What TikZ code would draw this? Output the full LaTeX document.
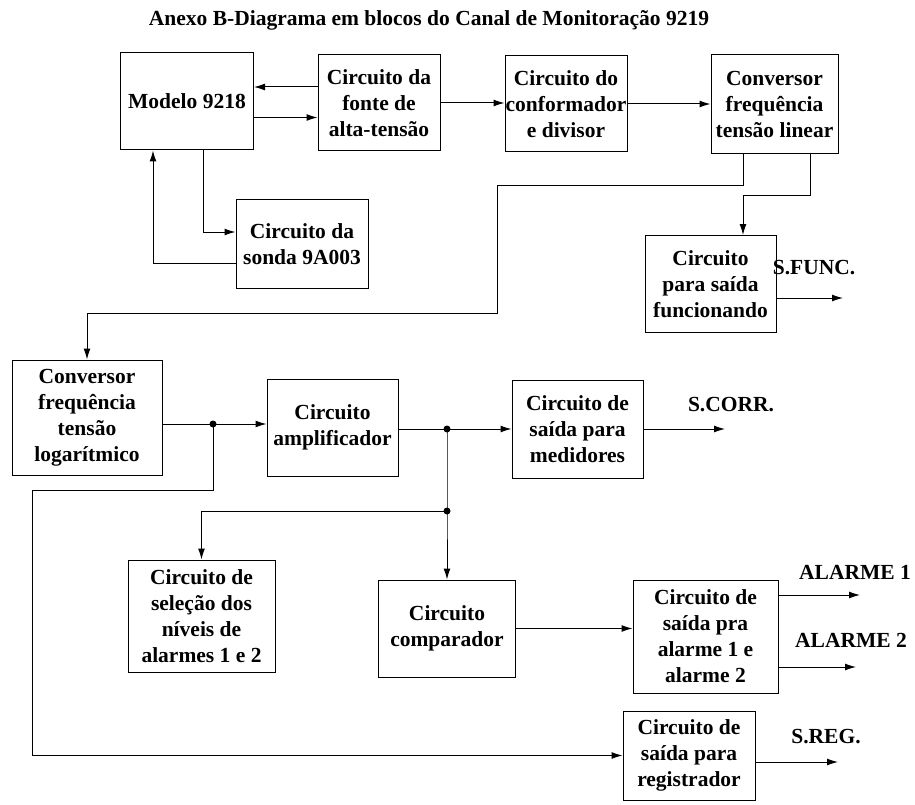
\documentclass[tikz,border=0pt]{standalone}
\usepackage{fontspec}
\setmainfont{Liberation Serif}
\usetikzlibrary{arrows.meta}
\begin{document}
\begin{tikzpicture}[x=1pt,y=-1pt,
  font=\fontsize{21.5}{26}\selectfont\bfseries,
  blk/.style={draw,line width=1pt,align=center,inner sep=0pt},
  a/.style={-{Latex[length=11pt,width=7pt]},line width=1pt},
  ln/.style={line width=1pt}]
  \useasboundingbox (0,0) rectangle (915,805);
  \node (tt) at (429,20) {Anexo B-Diagrama em blocos do Canal de Monitoração 9219};
  % blocos
  \node[blk,minimum width=133,minimum height=97] (m) at (187,101.5) {Modelo 9218};
  \node[blk,minimum width=122,minimum height=96] (ft) at (379,103) {Circuito da\\fonte de\\alta-tensão};
  \node[blk,minimum width=122,minimum height=96] (cf) at (566,104) {Circuito do\\conformador\\e divisor};
  \node[blk,minimum width=127,minimum height=99] (cl) at (774.5,104.5) {Conversor\\frequência\\tensão linear};
  \node[blk,minimum width=132,minimum height=88] (sd) at (302,244) {Circuito da\\sonda 9A003};
  \node[blk,minimum width=131,minimum height=97] (fn) at (710.5,284) {Circuito\\para saída\\funcionando};
  \node[blk,minimum width=150,minimum height=115] (lg) at (87,417.5) {Conversor\\frequência\\tensão\\logarítmico};
  \node[blk,minimum width=131,minimum height=97] (am) at (332.5,427.5) {Circuito\\amplificador};
  \node[blk,minimum width=131,minimum height=98] (md) at (577.5,429) {Circuito de\\saída para\\medidores};
  \node[blk,minimum width=147,minimum height=112] (nv) at (201.5,616) {Circuito de\\seleção dos\\níveis de\\alarmes 1 e 2};
  \node[blk,minimum width=137,minimum height=97] (cp) at (447,628.5) {Circuito\\comparador};
  \node[blk,minimum width=145,minimum height=113] (al) at (705.5,636.5) {Circuito de\\saída pra\\alarme 1 e\\alarme 2};
  \node[blk,minimum width=132,minimum height=89] (rg) at (689,755.5) {Circuito de\\saída para\\registrador};
  % saidas
  \node (lf) at (814,268) {S.FUNC.};
  \node (lc) at (731,405) {S.CORR.};
  \node (l1) at (855,572) {ALARME 1};
  \node (l2) at (851,640) {ALARME 2};
  \node (lr) at (826,737) {S.REG.};
  \coordinate (o1) at (843,298);
  \coordinate (o2) at (725,429);
  \coordinate (o3) at (860,595);
  \coordinate (o4) at (856,667);
  \coordinate (o5) at (838,762);
  \coordinate (j1) at (213,424);
  \coordinate (j2) at (447,429);
  \coordinate (j3) at (447,511);
  % ligacoes
  \draw[a] ([yshift=16pt]ft.west) -- ([yshift=16pt]ft.west -| m.east);
  \draw[a] ([yshift=-16pt]m.east) -- ([yshift=-16pt]m.east -| ft.west);
  \draw[a] ([xshift=16pt]m.south) |- ([yshift=12pt]sd.west);
  \draw[a] ([yshift=-19pt]sd.west) -| ([xshift=-34pt]m.south);
  \draw[a] (ft.east) -- (ft.east -| cf.west);
  \draw[a] (cf.east) -- (cf.east -| cl.west);
  \draw[a] ([xshift=-31.5pt]cl.south) -- ++(0,31) -| (497,313) -| (lg.north);
  \draw[a] ([xshift=35.5pt]cl.south) -- ++(0,41) -| ([xshift=32.5pt]fn.north);
  \draw[a] (lg.east |- j1) -- (j1 -| am.west);
  \draw[a] (j1) |- (32,490) |- (rg.west);
  \draw[a] (am.east |- j2) -- (j2 -| md.west);
  \draw[a] (j2) -- (j3) -- (cp.north);
  \draw[a] (j3) -| (nv.north);
  \draw[a] (cp.east) -- (cp.east -| al.west);
  \draw[a] ([yshift=-14pt]fn.east) -- (o1);
  \draw[a] (md.east |- o2) -- (o2);
  \draw[a] (al.east |- o3) -- (o3);
  \draw[a] (al.east |- o4) -- (o4);
  \draw[a] (rg.east |- o5) -- (o5);
  \foreach \j in {j1,j2,j3} \fill (\j) circle (3.5pt);
\end{tikzpicture}
\end{document}
